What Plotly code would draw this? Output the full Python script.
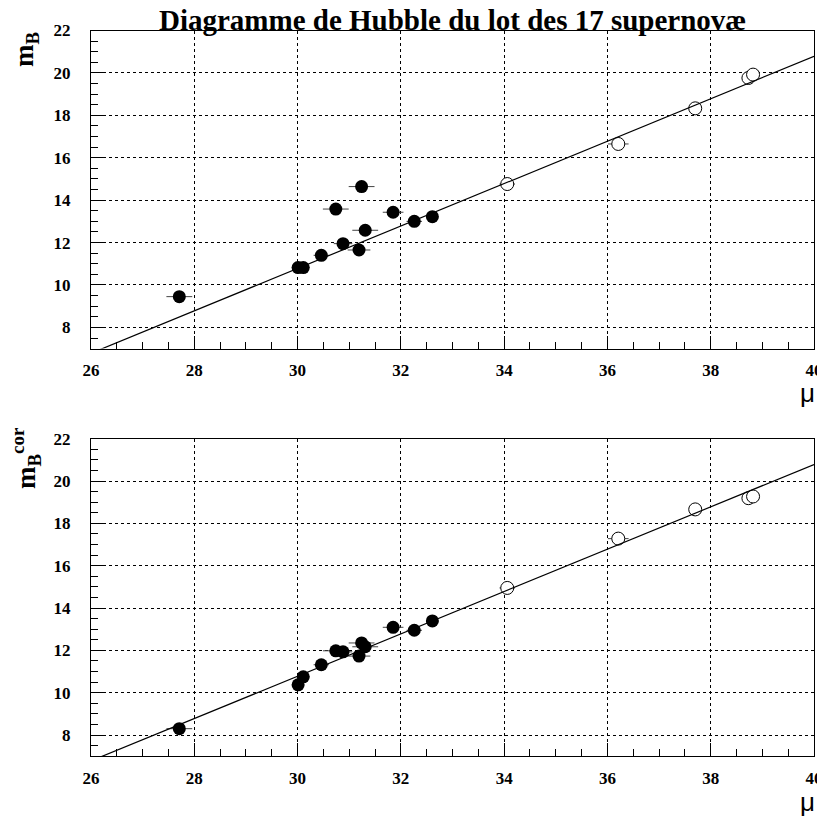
import plotly.graph_objects as go

# ---- data ----
mu_near = [27.71, 30.01, 30.11, 30.46, 30.74, 30.88, 31.19, 31.24, 31.31, 31.85, 32.26, 32.61]
mu_near_err = [0.25, 0.12, 0.12, 0.15, 0.25, 0.18, 0.22, 0.25, 0.25, 0.2, 0.15, 0.12]
mB_near = [9.45, 10.82, 10.82, 11.40, 13.58, 11.95, 11.65, 14.64, 12.58, 13.43, 13.00, 13.22]
mBcor_near = [8.30, 10.37, 10.75, 11.32, 11.98, 11.93, 11.73, 12.35, 12.17, 13.09, 12.95, 13.39]

mu_far = [34.06, 36.21, 37.70, 38.73, 38.82]
mu_far_err = [0.15, 0.2, 0.1, 0.1, 0.1]
mB_far = [14.76, 16.65, 18.33, 19.76, 19.92]
mBcor_far = [14.95, 17.28, 18.66, 19.19, 19.27]

fit_slope = 1.0
fit_intercept = -19.22
mu_range = [26, 40]
m_range = [7, 22]

title_text = "Diagramme de Hubble du lot des 17 supernovæ"

# ---- figure ----
# page has an 8px body margin, so the figure is 8px smaller and all positions are shifted
W, H = 817, 813
fig = go.Figure()
serif = "Liberation Serif, Times New Roman, serif"
fit_y = [fit_slope * m + fit_intercept for m in mu_range]

for i, (yn, yf) in enumerate([(mB_near, mB_far), (mBcor_near, mBcor_far)]):
    xa = "x" if i == 0 else "x2"
    ya = "y" if i == 0 else "y2"
    fig.add_trace(go.Scatter(x=mu_near, y=yn, mode="markers",
                             marker=dict(symbol="circle", size=13, color="black"),
                             error_x=dict(type="data", array=mu_near_err, color="#444",
                                          thickness=1, width=0),
                             xaxis=xa, yaxis=ya, showlegend=False))
    fig.add_trace(go.Scatter(x=mu_far, y=yf, mode="markers",
                             marker=dict(symbol="circle", size=13, color="white",
                                         line=dict(width=1, color="black")),
                             error_x=dict(type="data", array=mu_far_err, color="#444",
                                          thickness=1, width=0),
                             xaxis=xa, yaxis=ya, showlegend=False))
    fig.add_trace(go.Scatter(x=mu_range, y=fit_y, mode="lines",
                             line=dict(color="black", width=1.2),
                             xaxis=xa, yaxis=ya, showlegend=False, hoverinfo="skip"))

tickfont = dict(family=serif, size=17, color="black", weight="bold")
xdom = [83 / W, 806 / W]
ydom_top = [1 - 340.6 / H, 1 - 22.5 / H]
ydom_bot = [1 - 748.2 / H, 1 - 430.7 / H]

def xaxis(anchor):
    return dict(domain=xdom, range=mu_range, anchor=anchor, dtick=2, tick0=26,
                ticks="inside", ticklen=13, tickcolor="black", tickwidth=1,
                minor=dict(ticks="inside", ticklen=7, dtick=0.5, tickcolor="black", showgrid=False),
                showline=True, mirror=True, linecolor="black", linewidth=1.2,
                showgrid=True, gridcolor="black", griddash="dot", gridwidth=1,
                zeroline=False, tickfont=tickfont, ticklabelstandoff=6, automargin=False)

def yaxis(anchor, dom):
    return dict(domain=dom, range=m_range, anchor=anchor, dtick=2, tick0=0,
                ticks="inside", ticklen=13, tickcolor="black", tickwidth=1,
                minor=dict(ticks="inside", ticklen=7, dtick=0.5, tickcolor="black", showgrid=False),
                showline=True, mirror=True, linecolor="black", linewidth=1.2,
                showgrid=True, gridcolor="black", griddash="dot", gridwidth=1,
                zeroline=False, tickfont=tickfont, ticklabelstandoff=16, automargin=False)

def px(x, y):
    return x / W, 1 - y / H

ann = []
tx, ty = px(444.5, 30)
ann.append(dict(text="<b>" + title_text + "</b>", x=tx, y=ty, xanchor="center", yanchor="bottom",
                font=dict(family=serif, size=29, color="black")))
lx, ly = px(18, 41)
ann.append(dict(text="<b>m<sub>B</sub></b>", x=lx, y=ly, xanchor="center", yanchor="middle",
                textangle=-90, font=dict(family=serif, size=27, color="black")))
lx, ly = px(18, 451)
ann.append(dict(text="<b>m<sub>B</sub><sup>cor</sup></b>", x=lx, y=ly, xanchor="center", yanchor="middle",
                textangle=-90, font=dict(family=serif, size=27, color="black")))
for yy in (385, 794):
    mx, my = px(799, yy)
    ann.append(dict(text="μ", x=mx, y=my, xanchor="center", yanchor="middle",
                    font=dict(family="Liberation Sans, Arial, sans-serif", size=26, color="black")))
for a in ann:
    a.update(xref="paper", yref="paper", showarrow=False)

fig.update_layout(
    width=W, height=H,
    margin=dict(l=0, r=0, t=0, b=0),
    paper_bgcolor="white", plot_bgcolor="white",
    xaxis=xaxis("y"), yaxis=yaxis("x", ydom_top),
    xaxis2=xaxis("y2"), yaxis2=yaxis("x2", ydom_bot),
    annotations=ann,
)

fig.write_html("out.html")
